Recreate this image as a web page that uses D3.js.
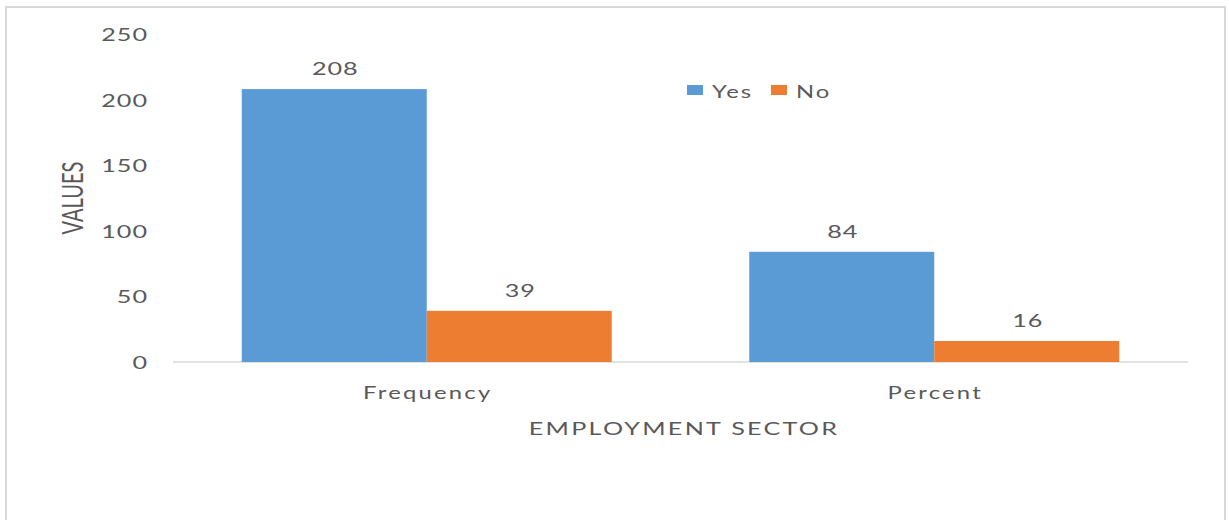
<!DOCTYPE html>
<html><head><meta charset="utf-8">
<script src="https://cdn.jsdelivr.net/npm/d3@7"></script>
<style>html,body{margin:0;padding:0;background:#fff;}svg{display:block;font-family:Lato,"Open Sans",sans-serif;}</style>
</head><body>
<svg id="chart" width="1229" height="520"></svg>
<script>
const categories = ["Frequency", "Percent"];
const seriesNames = ["Yes", "No"];
const yesValues = [208, 84];
const noValues = [39, 16];
const yTicks = [0, 50, 100, 150, 200, 250];
const xTitle = "EMPLOYMENT SECTOR";
const yTitle = "VALUES";
const colors = ["#5B9BD5", "#ED7D31"];

(function () {
const SX = 1.4;
const textColor = "#595959";
const svg = d3.select("#chart");

// chart frame
svg.append("rect").attr("x", 6).attr("y", 7).attr("width", 1219).attr("height", 530)
  .attr("fill", "#fff").attr("stroke", "#d9d9d9").attr("stroke-width", 2);

const pLeft = 173, pRight = 1188, pTop = 34, pBottom = 362;
const x = d3.scaleBand().domain(categories).range([pLeft, pRight]).paddingInner(0.271).paddingOuter(0.1355);
const xs = d3.scaleBand().domain(seriesNames).range([0, x.bandwidth()]);
const y = d3.scaleLinear().domain([0, 250]).range([pBottom, pTop]);

function stext(g, tx, ty, str, size, anchor, ls) {
  const t = g.append("text")
    .attr("transform", `translate(${tx},${ty}) scale(${SX},1)`)
    .attr("text-anchor", anchor).attr("dominant-baseline", "central")
    .attr("font-size", size).attr("fill", textColor)
    .style("letter-spacing", (ls || 0) + "px")
    .text(str);
  return t;
}

// y tick labels
const yAxis = svg.append("g");
yTicks.forEach(t => stext(yAxis, 148, y(t), t, 18, "end", 0.7));

// baseline
svg.append("line").attr("x1", pLeft).attr("x2", pRight).attr("y1", y(0)).attr("y2", y(0))
  .attr("stroke", "#d9d9d9").attr("stroke-width", 1.5);

const data = categories.map((c, i) => ({cat: c, vals: [{s: "Yes", v: yesValues[i]}, {s: "No", v: noValues[i]}]}));
const groups = svg.selectAll("g.grp").data(data).join("g").attr("class", "grp")
  .attr("transform", d => `translate(${x(d.cat)},0)`);
groups.selectAll("rect").data(d => d.vals).join("rect")
  .attr("x", d => xs(d.s)).attr("width", xs.bandwidth())
  .attr("y", d => y(d.v)).attr("height", d => y(0) - y(d.v))
  .attr("fill", (d, i) => colors[i]);
groups.each(function(d) {
  const g = d3.select(this);
  d.vals.forEach(v => stext(g, xs(v.s) + xs.bandwidth() / 2 + 1, y(v.v) - 21, v.v, 18, "middle", 0.7));
});

// x category labels
categories.forEach(c => stext(svg, x(c) + x.bandwidth() / 2 + 1, 392, c, 17, "middle", 1.6));

// axis titles
stext(svg, 684, 428, xTitle, 18, "middle", 1.6);
svg.append("text")
  .attr("transform", `translate(72,198) scale(${SX},1) rotate(-90)`)
  .attr("text-anchor", "middle").attr("dominant-baseline", "central")
  .attr("font-size", 20).attr("fill", textColor).text(yTitle);

// legend
const legend = svg.append("g");
const legX = [687, 771];
seriesNames.forEach((s, i) => {
  legend.append("rect").attr("x", legX[i]).attr("y", 85).attr("width", 16).attr("height", 10).attr("fill", colors[i]);
  stext(legend, legX[i] + 25, 91, s, 17, "start", 1.4);
});
})();
</script>
</body></html>
